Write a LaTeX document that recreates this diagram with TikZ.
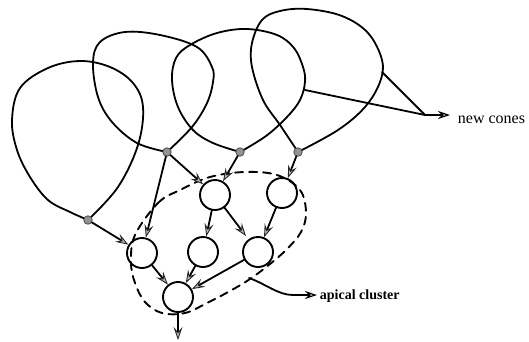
\documentclass[tikz,border=0pt]{standalone}
\usepackage{fontspec}
\setmainfont{Liberation Serif}
\usetikzlibrary{arrows.meta}
\begin{document}
\begin{tikzpicture}[x=1pt,y=-1pt,
  line width=1.8pt, line join=round, line cap=round,
  loopline/.style={line width=1.8pt},
  dotn/.style={circle, fill=gray!85, draw=black!70, line width=0.8pt, inner sep=0pt, minimum size=8.5pt},
  cnode/.style={circle, draw, line width=1.9pt, minimum size=30pt, inner sep=0pt},
  garrow/.style={-{Stealth[length=13pt,width=9pt,inset=5pt,fill=gray!55,color=black!85,line width=0.9pt]}},
  oarrow/.style={-{Stealth[open,length=12pt,width=8pt,inset=4pt,line width=1.2pt]}},
  cluster/.style={line width=1.9pt, dash pattern=on 8pt off 6pt},
  lbl/.style={inner sep=0pt, anchor=base west}
]
\useasboundingbox (0,0) rectangle (529,341);

% cones (loops)
\draw[loopline] plot[smooth, tension=0.6] coordinates {(88,220) (70,212) (48,200) (30,177) (17,150) (12,120) (20,88) (48,68) (80,61) (110,67) (133,83) (143,107) (138,145) (118,187) (88,220)};
\draw[loopline] plot[smooth, tension=0.6] coordinates {(167,152) (137,143) (112,122) (98,97) (93,63) (100,42) (125,32) (160,35) (197,47) (212,67) (213,82) (207,103) (192,127) (167,152)};
\draw[loopline] plot[smooth, tension=0.6] coordinates {(240,152) (213,143) (193,130) (178,107) (172,80) (176,58) (190,45) (217,33) (247,29) (277,35) (294,48) (303,67) (305,82) (300,100) (287,117) (266,136) (240,152)};
\draw[loopline] plot[smooth, tension=0.6] coordinates {(298,152) (280,125) (263,100) (252,67) (252,43) (262,20) (280,11) (307,9) (342,16) (368,33) (382,60) (380,82) (365,107) (338,130) (298,152)};

% apex dots
\node[dotn] (d1) at (88,220) {};
\node[dotn] (d2) at (167,152) {};
\node[dotn] (d3) at (240,152) {};
\node[dotn] (d4) at (298,152) {};

% cluster nodes
\node[cnode] (B) at (215,195) {};
\node[cnode] (C) at (282,193) {};
\node[cnode] (A) at (142,253) {};
\node[cnode] (D) at (203,252) {};
\node[cnode] (F) at (258,252) {};
\node[cnode] (E) at (178,297) {};
\coordinate (out) at (178,340);

% dashed apical cluster boundary
\draw[cluster] plot[smooth cycle, tension=0.6] coordinates {(135,235) (158,203) (180,190) (210,177) (245,172) (277,175) (300,190) (306,213) (301,232) (287,249) (270,264) (250,279) (230,291) (207,303) (185,313) (162,313) (145,302) (135,283) (131,262)};

% connectors
\draw[garrow] (d1) -- (A);
\draw[garrow] (d2) -- (A);
\draw[garrow] (d2) -- (B);
\draw[garrow] (d3) -- (B);
\draw[garrow] (d4) -- (C);
\draw[garrow] (B) -- (D);
\draw[garrow, shorten >=4pt] (B) -- (F);
\draw[garrow] (C) -- (F);
\draw[garrow] (A) -- (E);
\draw[garrow] (D) -- (E);
\draw[garrow] (F) -- (E);
\draw[garrow] (E) -- (out);

% new cones
\coordinate (nc1) at (305,90);
\coordinate (nc2) at (382,72);
\coordinate (ncj) at (425,115);
\coordinate (nca) at (450,115);
\draw (nc1) -- (ncj);
\draw (nc2) -- (ncj);
\draw[oarrow] (ncj) -- (nca);
\node[lbl, font=\fontsize{16}{18}\selectfont] (newc) at (457,123) {new cones};

% apical cluster
\coordinate (ap1) at (249,278);
\coordinate (ap2) at (317,295);
\draw[oarrow] (ap1) .. controls (266,284) and (278,295) .. (293,295) -- (ap2);
\node[lbl, font=\fontsize{14}{16}\selectfont\bfseries] (apc) at (319,299) {apical cluster};
\end{tikzpicture}
\end{document}
